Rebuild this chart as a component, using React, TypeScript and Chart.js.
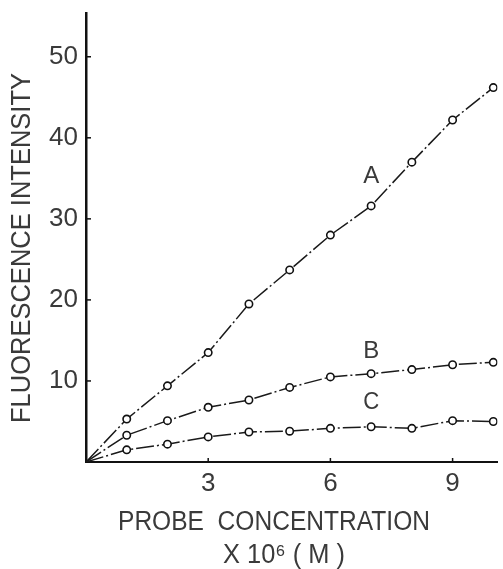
import React, { useEffect, useRef } from "react";
import { Chart, registerables } from "chart.js";

Chart.register(...registerables);

const concentrations = [0, 1, 2, 3, 4, 5, 6, 7, 8, 9, 10];
const seriesA = [0, 5.3, 9.4, 13.5, 19.5, 23.7, 28.0, 31.6, 37.0, 42.2, 46.2];
const seriesB = [0, 3.3, 5.1, 6.75, 7.65, 9.2, 10.5, 10.9, 11.4, 12.0, 12.3];
const seriesC = [0, 1.5, 2.2, 3.1, 3.7, 3.8, 4.15, 4.35, 4.15, 5.1, 5.0];
const seriesNames = ["A", "B", "C"];
const seriesLabelX = [7.0, 7.0, 7.0];
const seriesLabelY = [35.2, 13.6, 7.4];
const xTicks = [3, 6, 9];
const yTicks = [10, 20, 30, 40, 50];
const xTitle = "PROBE  CONCENTRATION";
const xUnit = "X 10⁶ ( M )";
const yTitle = "FLUORESCENCE INTENSITY";

const FONT = "'Liberation Sans', Arial, Helvetica, sans-serif";
const INK = "#3a3a3a";

function drawFit(ctx: CanvasRenderingContext2D, text: string, cx: number, cy: number, target: number, size: number, rotate: boolean) {
  ctx.save();
  ctx.font = `${size}px ${FONT}`;
  ctx.fillStyle = INK;
  ctx.textAlign = "center";
  ctx.textBaseline = "middle";
  const w = ctx.measureText(text).width;
  ctx.translate(cx, cy);
  if (rotate) ctx.rotate(-Math.PI / 2);
  ctx.scale(target / w, 1);
  ctx.fillText(text, 0, 0);
  ctx.restore();
}

const annotate = {
  id: "annotate",
  afterDraw(chart: any) {
    const { ctx, chartArea } = chart;
    const x = chart.scales.x;
    const y = chart.scales.y;
    ctx.save();
    ctx.strokeStyle = "#111";
    ctx.lineWidth = 1.5;
    yTicks.forEach((v) => {
      const py = y.getPixelForValue(v);
      ctx.beginPath();
      ctx.moveTo(chartArea.left, py);
      ctx.lineTo(chartArea.left + 5, py);
      ctx.stroke();
    });
    xTicks.forEach((v) => {
      const px = x.getPixelForValue(v);
      ctx.beginPath();
      ctx.moveTo(px, chartArea.bottom);
      ctx.lineTo(px, chartArea.bottom - 4);
      ctx.stroke();
    });
    ctx.restore();
    seriesNames.forEach((n, i) => {
      drawFit(ctx, n, x.getPixelForValue(seriesLabelX[i]), y.getPixelForValue(seriesLabelY[i]), 16, 24, false);
    });
    drawFit(ctx, xTitle, 274, 523, 312, 27, false);
    drawFit(ctx, xUnit, 284, 556, 122, 27, false);
    drawFit(ctx, yTitle, 23, 248, 350, 27, true);
  },
};

export default function App() {
  const ref = useRef<HTMLCanvasElement | null>(null);
  useEffect(() => {
    if (!ref.current) return;
    const mk = (data: number[]) => ({
      data: concentrations.map((c, i) => ({ x: c, y: data[i] })),
      borderColor: "#1a1a1a",
      borderWidth: 1.5,
      borderDash: [18, 3, 2, 3],
      pointRadius: (c: any) => (c.dataIndex === 0 ? 0 : 3.7),
      pointBackgroundColor: "#fff",
      pointBorderColor: "#111",
      pointBorderWidth: 1.6,
      fill: false,
      tension: 0,
    });
    const chart = new Chart(ref.current, {
      type: "line",
      data: {
        datasets: [mk(seriesA), mk(seriesB), mk(seriesC)],
      },
      options: {
        animation: false,
        responsive: false,
        layout: { padding: { top: 13, right: 1, left: 0, bottom: 0 } },
        plugins: { legend: { display: false }, tooltip: { enabled: false } },
        scales: {
          x: {
            type: "linear",
            min: 0,
            max: 10.1,
            afterFit: (s: any) => {
              s.height = 107;
              s.paddingLeft = 0;
              s.paddingRight = 0;
            },
            afterBuildTicks: (s: any) => {
              s.ticks = xTicks.map((v) => ({ value: v }));
            },
            grid: { display: false, drawTicks: false },
            border: { display: true, width: 2, color: "#111" },
            ticks: {
              padding: 6,
              color: INK,
              font: { size: 26, family: FONT },
              maxRotation: 0,
            },
          },
          y: {
            type: "linear",
            min: 0,
            max: 55.4,
            afterFit: (s: any) => {
              s.width = 86;
              s.paddingTop = 0;
              s.paddingBottom = 0;
            },
            afterBuildTicks: (s: any) => {
              s.ticks = yTicks.map((v) => ({ value: v }));
            },
            grid: { display: false, drawTicks: false },
            border: { display: true, width: 2.5, color: "#111" },
            ticks: {
              padding: 8,
              color: INK,
              font: { size: 26, family: FONT },
            },
          },
        },
      },
      plugins: [annotate],
    });
    return () => chart.destroy();
  }, []);
  return (
    <div style={{ position: "fixed", left: 0, top: 0, width: 503, height: 569, background: "#fff" }}>
      <canvas ref={ref} width={503} height={569} style={{ display: "block" }} />
    </div>
  );
}
